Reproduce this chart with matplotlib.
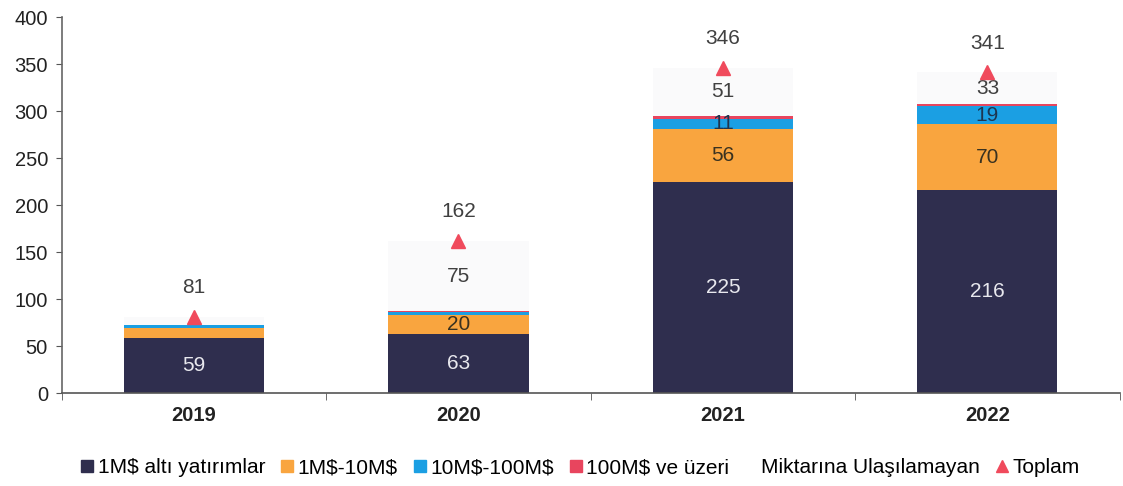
import matplotlib
matplotlib.use("Agg")
import matplotlib.pyplot as plt
from matplotlib.lines import Line2D
import numpy as np

plt.rcParams['font.family'] = ['Liberation Sans', 'DejaVu Sans']

years = ['2019', '2020', '2021', '2022']
alt_1m = [59, 63, 225, 216]
m1_10 = [10, 20, 56, 70]
m10_100 = [4, 3, 11, 19]
m100_plus = [0, 1, 3, 3]
unreached = [8, 75, 51, 33]
total = [81, 162, 346, 341]

series_names = ['1M\\$ altı yatırımlar', '1M\\$-10M\\$', '10M\\$-100M\\$', '100M\\$ ve üzeri',
                'Miktarına Ulaşılamayan']
colors = ['#2f2e4e', '#f9a53f', '#1b9fe3', '#e8455e', '#fafafb']
tri_color = '#f04a5c'

fig = plt.figure(figsize=(11.23, 4.86), dpi=100)
ax = fig.add_axes([0.055, 0.191, 0.942, 0.774])

x = np.arange(len(years))
width = 0.53
bottom = np.zeros(len(years))
data = [alt_1m, m1_10, m10_100, m100_plus, unreached]
for vals, c in zip(data, colors):
    ax.bar(x, vals, width, bottom=bottom, color=c, linewidth=0, zorder=2)
    bottom += np.array(vals)

fs = 15
for i in range(len(years)):
    ax.text(x[i], alt_1m[i] / 2, str(alt_1m[i]), ha='center', va='center',
            color='#e8e8ee', fontsize=fs, zorder=4)
    if i > 0:
        b0 = alt_1m[i]
        ax.text(x[i], b0 + m1_10[i] / 2, str(m1_10[i]), ha='center', va='center',
                color='#3a3220', fontsize=fs, zorder=4)
    if i >= 2:
        b1 = alt_1m[i] + m1_10[i]
        ax.text(x[i], b1 + m10_100[i] / 2, str(m10_100[i]), ha='center', va='center',
                color='#1d3550', fontsize=fs, zorder=4)
    if i >= 1:
        b3 = alt_1m[i] + m1_10[i] + m10_100[i] + m100_plus[i]
        ax.text(x[i], b3 + unreached[i] / 2, str(unreached[i]), ha='center', va='center',
                color='#404040', fontsize=fs, zorder=4)

ax.plot(x, total, linestyle='none', marker='^', color=tri_color, markersize=10, zorder=5)
for i in range(len(years)):
    ax.annotate(str(total[i]), (x[i], total[i]), xytext=(0, 21), textcoords='offset points',
                ha='center', va='center', fontsize=fs, color='#404040')

ax.set_xlim(-0.5, 3.5)
ax.set_ylim(0, 400)
ax.set_yticks(range(0, 401, 50))
ax.set_xticks(x)
ax.set_xticklabels(years, fontsize=14.5, fontweight='bold', color='#222222')
ax.tick_params(axis='y', labelsize=14.5, labelcolor='#222222', direction='out', length=4,
               color='#555555', pad=6)
ax.set_xticks([-0.5, 0.5, 1.5, 2.5, 3.5], minor=True)
ax.tick_params(axis='x', which='major', length=0, pad=9)
ax.tick_params(axis='x', which='minor', length=5, direction='out', color='#555555')
for s in ['top', 'right']:
    ax.spines[s].set_visible(False)
ax.spines['left'].set_color('#666666')
ax.spines['bottom'].set_color('#555555')
ax.spines['left'].set_linewidth(1.2)
ax.spines['bottom'].set_linewidth(1.2)

handles = [Line2D([], [], linestyle='none', marker='s', markersize=8, color=c) for c in colors[:4]]
handles.append(Line2D([], [], linestyle='none', marker='s', markersize=8, color='white'))
handles.append(Line2D([], [], linestyle='none', marker='^', markersize=9, color=tri_color))
labels = series_names + ['Toplam']
fig.legend(handles, labels, loc='center', bbox_to_anchor=(0.515, 0.038), ncol=6, frameon=False,
           prop={'family': 'Liberation Sans', 'size': 15},
           handletextpad=0.0, columnspacing=0.55, handlelength=1.0)

fig.savefig('out.png', dpi=100)
